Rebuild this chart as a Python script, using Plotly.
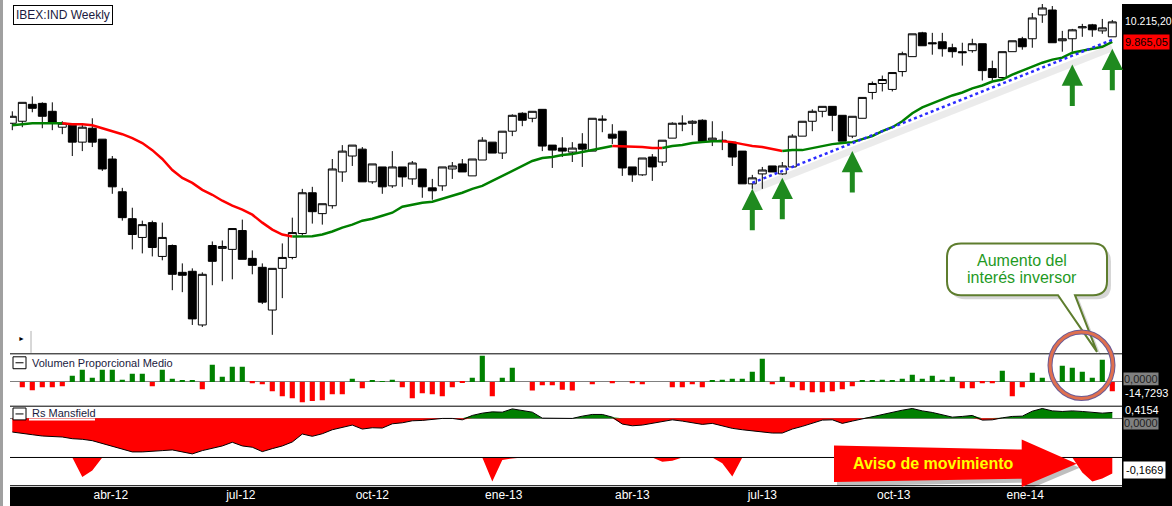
import numpy as np
import pandas as pd
import plotly.graph_objects as go

# ---------------- data (weekly IBEX 35) ----------------
dates = pd.date_range("2012-01-23", periods=111, freq="7D")

opens = [8554, 8584, 8842, 8857, 8735, 8495, 8525, 8276, 8480, 8319,
         8035, 7587, 7238, 7004, 7188, 6775, 6906, 6589, 6601, 6009,
         6906, 6871, 6859, 7089, 6752, 6647, 6168, 6635, 6763, 7052,
         7574, 7302, 7404, 7855, 8077, 8175, 7720, 7924, 7666, 7924,
         7760, 7896, 7639, 7666, 7896, 7966, 7801, 8021, 8276, 8119,
         8436, 8705, 8629, 8765, 8233, 8190, 8133, 8248, 8147, 8599,
         8392, 8436, 7924, 7815, 8063, 7993, 8334, 8540, 8554, 8599,
         8304, 8304, 8276, 8147, 7693, 7828, 7938, 7828, 7924, 8363,
         8584, 8735, 8811, 8674, 8363, 8629, 9028, 9171, 9076, 9364,
         9612, 10021, 9849, 9866, 9763, 9696, 9713, 9832, 9413, 9267,
         9696, 9918, 9918, 10340, 10430, 9883, 9918, 10109, 10162, 10056,
         9952]
highs = [8735, 8873, 8966, 8873, 8873, 8584, 8525, 8554, 8629, 8319,
         8077, 7639, 7378, 7213, 7213, 7188, 6918, 6693, 6635, 6589,
         6955, 6967, 7114, 7226, 6847, 6693, 6635, 6931, 7251, 7626,
         7653, 7430, 8035, 8233, 8233, 8205, 7966, 7924, 8147, 7924,
         8007, 7896, 7760, 7924, 7993, 8035, 8035, 8348, 8276, 8436,
         8689, 8720, 8735, 8765, 8233, 8348, 8276, 8407, 8629, 8674,
         8540, 8436, 7924, 8049, 8105, 8304, 8569, 8674, 8599, 8614,
         8584, 8436, 8276, 8147, 7815, 7924, 7938, 7993, 8392, 8584,
         8765, 8811, 8811, 8674, 8659, 8950, 9203, 9299, 9348, 9696,
         10004, 10039, 10021, 10021, 9832, 9849, 9918, 9832, 9545, 9696,
         9883, 9952, 10376, 10540, 10503, 10056, 10091, 10180, 10180, 10268,
         10250]
lows = [8451, 8495, 8720, 8480, 8451, 8392, 8077, 8147, 8205, 7869,
        7560, 7213, 6859, 6811, 6775, 6729, 6386, 6364, 6009, 5988,
        6442, 6487, 6509, 6741, 6566, 6233, 5906, 6298, 6741, 7028,
        7176, 7163, 7366, 7720, 7938, 7720, 7693, 7560, 7639, 7653,
        7679, 7508, 7482, 7600, 7760, 7855, 7801, 8021, 8119, 8035,
        8363, 8510, 8569, 8147, 7910, 8063, 7993, 7924, 8147, 8421,
        8247, 7801, 7720, 7801, 7733, 7938, 8334, 8436, 8377, 8276,
        8219, 8161, 7938, 7693, 7626, 7626, 7855, 7815, 7924, 8363,
        8436, 8644, 8436, 8290, 8334, 8629, 8919, 9044, 9044, 9283,
        9612, 9797, 9645, 9612, 9595, 9462, 9679, 9219, 9219, 9251,
        9696, 9730, 9763, 10198, 9849, 9696, 9696, 9952, 9952, 10004,
        9952]
closes = [8659, 8873, 8781, 8659, 8569, 8554, 8276, 8495, 8276, 7896,
          7653, 7251, 7040, 7163, 6882, 7004, 6566, 6555, 6073, 6566,
          6717, 6894, 7114, 6741, 6670, 6254, 6635, 6763, 7064, 7574,
          7327, 7430, 7896, 8147, 8233, 7720, 7966, 7653, 7924, 7787,
          7979, 7653, 7600, 7924, 7938, 7855, 8035, 8304, 8119, 8436,
          8674, 8599, 8735, 8219, 8161, 8147, 8190, 8175, 8629, 8614,
          8334, 7910, 7815, 8049, 7924, 8304, 8554, 8554, 8584, 8290,
          8334, 8290, 8063, 7693, 7774, 7882, 7855, 7938, 8363, 8584,
          8735, 8811, 8674, 8290, 8659, 8950, 9171, 9235, 9348, 9662,
          10004, 9797, 9832, 9746, 9696, 9679, 9832, 9380, 9267, 9696,
          9883, 9780, 10286, 10467, 9849, 9918, 10074, 10127, 10074, 10109,
          10215.20]
ma30 = [8525, 8540, 8554, 8554, 8554, 8554, 8540, 8540, 8525, 8480,
        8436, 8392, 8334, 8262, 8161, 8035, 7882, 7774, 7706, 7613,
        7547, 7469, 7404, 7353, 7289, 7188, 7101, 7040, 7016, 7018,
        7020, 7040, 7077, 7126, 7163, 7213, 7238, 7276, 7314, 7391,
        7417, 7443, 7456, 7495, 7534, 7574, 7626, 7666, 7733, 7801,
        7869, 7938, 8007, 8049, 8063, 8091, 8105, 8133, 8161, 8190,
        8219, 8215, 8215, 8205, 8190, 8190, 8219, 8233, 8262, 8276,
        8290, 8290, 8276, 8247, 8219, 8205, 8175, 8147, 8161, 8161,
        8190, 8219, 8247, 8262, 8276, 8319, 8363, 8436, 8495, 8584,
        8705, 8796, 8857, 8919, 8981, 9028, 9092, 9139, 9203, 9235,
        9315, 9380, 9446, 9511, 9562, 9595, 9679, 9713, 9746, 9780,
        9865.05]
vol_prop = [None, -8.3, -13.0, -8.3, -8.3, -6.7, 9.9, 19.3, 6.7, 19.3,
            19.3, 3.6, 13.0, 13.0, -6.7, 19.3, 5.2, 2.0, 2.0, -11.4,
            27.1, 8.3, 24.0, 24.0, -2.0, -3.6, -14.6, -22.4, -25.5, -31.8,
            -30.2, -28.7, -19.3, -19.3, 5.2, -9.9, 2.0, 0.3, 3.6, -8.3,
            -25.5, -17.7, -19.3, -22.4, -8.3, -0.3, 6.7, 41.2, -22.4, 6.7,
            22.4, 0.0, -13.6, -5.2, -5.2, -12.1, -13.6, 0.0, -3.6, 0.0,
            -2.0, 0.0, -2.0, -3.6, 0.0, 0.0, -8.3, -8.3, -3.6, -8.3,
            2.0, 3.6, 5.2, 5.2, 16.1, 36.5, -3.6, 8.3, -8.3, -13.0,
            -16.1, -16.1, -14.6, -11.4, -6.7, 2.0, 2.0, 3.6, 2.0, 5.2,
            11.4, 5.2, 9.9, 3.6, 8.3, -9.9, -9.9, -2.0, -2.0, 17.7,
            -22.4, -8.3, 14.6, 6.7, 0.0, 25.5, 22.4, 16.1, 6.7, 34.9,
            -14.7293]
rs_mansfield = [-1.021, -1.094, -1.217, -1.312, -1.363, -1.385, -1.509, -1.553, -1.655, -1.874,
                -2.092, -2.282, -2.479, -2.479, -2.457, -2.384, -2.333, -2.479, -2.624, -2.384,
                -2.209, -2.041, -1.771, -2.041, -2.136, -2.457, -2.238, -2.041, -1.750, -1.166,
                -1.334, -1.145, -0.853, -0.656, -0.510, -0.802, -0.707, -0.729, -0.416, -0.343,
                -0.197, -0.168, -0.095, -0.022, -0.022, -0.124, 0.197, 0.365, 0.459, 0.437,
                0.678, 0.583, 0.437, 0.0, -0.022, -0.051, -0.022, 0.146, 0.270, 0.270,
                0.073, -0.437, -0.561, -0.510, -0.386, -0.219, -0.124, -0.219, -0.343, -0.459,
                -0.386, -0.561, -0.751, -0.853, -0.926, -0.999, -1.094, -1.094, -0.802, -0.605,
                -0.386, -0.146, -0.124, -0.386, -0.219, -0.051, 0.095, 0.270, 0.437, 0.583,
                0.707, 0.532, 0.416, 0.270, 0.073, 0.124, 0.197, -0.146, -0.124, 0.022,
                0.124, 0.146, 0.510, 0.707, 0.532, 0.488, 0.532, 0.488, 0.416, 0.365,
                0.4154]
rs_lower = [0, 0, 0, 0, 0, 0, 0, -0.203, -0.136, 0,
            0, 0, 0, 0, 0, 0, 0, 0, 0, 0,
            0, 0, 0, 0, 0, 0, 0, 0, 0, 0,
            0, 0, 0, 0, 0, 0, 0, 0, 0, 0,
            0, 0, 0, 0, 0, 0, 0, 0, -0.250, -0.026,
            -0.010, 0, 0, 0, 0, 0, 0, 0, 0, 0,
            0, 0, 0, 0, 0, -0.045, -0.034, 0, 0, 0,
            0, -0.059, -0.198, 0, 0, 0, 0, 0, 0, 0,
            0, 0, 0, 0, 0, 0, 0, 0, 0, 0,
            0, 0, 0, 0, 0, 0, 0, 0, 0, 0,
            0, 0, 0, 0, 0, 0, 0, -0.156, -0.250, -0.219,
            -0.1669]
tick_dates = ["2012-04-01", "2012-07-01", "2012-10-01", "2013-01-01",
              "2013-04-01", "2013-07-01", "2013-10-01", "2014-01-01"]
tick_text = ["abr-12", "jul-12", "oct-12", "ene-13", "abr-13", "jul-13", "oct-13", "ene-14"]

trend_idx = [74, 110]
trend_prices = [7706, 9900]
shadow_prices = [7613, 9763]
arrow_idx = [74, 77, 84, 106, 110]
arrow_prices = [7626, 7774, 8147, 9479, 9746]

# ---------------- geometry ----------------
W, H = 1172, 506
ML, MR, MT, MB = 10, 50, 4, 17
PW, PH = W - ML - MR, H - MT - MB


def px(x):
    return (x - ML) / PW


def py(y):
    return (H - MB - y) / PH


FONT = "Liberation Sans, Arial, sans-serif"
GREEN = "#008000"
RED = "#ff0000"

fig = go.Figure()

# moving average coloured by slope
cols = []
prev = "g"
for i in range(1, len(ma30)):
    d = ma30[i] - ma30[i - 1]
    c = "g" if d > 0 else ("r" if d < 0 else prev)
    cols.append(c)
    prev = c
s = 0
for j in range(1, len(cols) + 1):
    if j == len(cols) or cols[j] != cols[s]:
        fig.add_trace(go.Scatter(
            x=dates[s:j + 1], y=ma30[s:j + 1], mode="lines",
            line=dict(color=GREEN if cols[s] == "g" else RED, width=2.5),
            xaxis="x", yaxis="y", showlegend=False, hoverinfo="skip"))
        s = j

fig.add_trace(go.Candlestick(
    x=dates, open=opens, high=highs, low=lows, close=closes,
    increasing=dict(fillcolor="white", line=dict(color="black", width=1)),
    decreasing=dict(fillcolor="black", line=dict(color="black", width=1)),
    whiskerwidth=0, xaxis="x", yaxis="y", showlegend=False))

# trend line with soft shadow
fig.add_trace(go.Scatter(x=[dates[i] for i in trend_idx], y=shadow_prices, mode="lines",
                         line=dict(color="rgba(0,0,0,0.08)", width=7),
                         xaxis="x", yaxis="y", showlegend=False, hoverinfo="skip"))
fig.add_trace(go.Scatter(x=[dates[i] for i in trend_idx], y=trend_prices, mode="lines",
                         line=dict(color="#2b2bff", width=2.5, dash="dot"),
                         xaxis="x", yaxis="y", showlegend=False, hoverinfo="skip"))

# volume panel
vcolors = [GREEN if (v is not None and v > 0) else RED for v in vol_prop]
fig.add_trace(go.Bar(x=dates, y=vol_prop, marker=dict(color=vcolors, line=dict(width=0)),
                     width=3.6 * 86400000, xaxis="x2", yaxis="y2", showlegend=False))

# RS Mansfield
rs_pos = [max(v, 0) for v in rs_mansfield]
rs_neg = [min(v, 0) for v in rs_mansfield]
fig.add_trace(go.Scatter(x=dates, y=rs_neg, mode="lines", fill="tozeroy", fillcolor=RED,
                         line=dict(width=0, color=RED), xaxis="x3", yaxis="y3", showlegend=False))
fig.add_trace(go.Scatter(x=dates, y=rs_pos, mode="lines", fill="tozeroy", fillcolor=GREEN,
                         line=dict(width=0, color=GREEN), xaxis="x3", yaxis="y3", showlegend=False))
fig.add_trace(go.Scatter(x=dates, y=rs_mansfield, mode="lines", line=dict(width=1, color="black"),
                         xaxis="x3", yaxis="y3", showlegend=False))

# lower panel
fig.add_trace(go.Scatter(x=dates, y=rs_lower, mode="lines", fill="tozeroy", fillcolor=RED,
                         line=dict(width=0, color=RED), xaxis="x4", yaxis="y4", showlegend=False))

xr = ["2012-01-21 09:21", "2014-03-09 19:00"]
xcommon = dict(range=xr, type="date", showgrid=False, zeroline=False, showline=False,
               ticks="", domain=[0, 1])

lo_main = np.log10(10215.2 * np.exp(-0.00174 * (355.3 - 22)))
hi_main = np.log10(10215.2 * np.exp(-0.00174 * (4 - 22)))

shapes = []


def rect(x0, y0, x1, y1, fill, layer="above", line=None):
    shapes.append(dict(type="rect", xref="paper", yref="paper",
                       x0=px(x0), x1=px(x1), y0=py(y1), y1=py(y0),
                       fillcolor=fill, line=line or dict(width=0), layer=layer))


def hline(y, x0=10, x1=1122, color="black", width=1):
    shapes.append(dict(type="line", xref="paper", yref="paper", x0=px(x0), x1=px(x1),
                       y0=py(y), y1=py(y), line=dict(color=color, width=width), layer="above"))


def vline(x, y0, y1, color="black", width=1):
    shapes.append(dict(type="line", xref="paper", yref="paper", x0=px(x), x1=px(x),
                       y0=py(y0), y1=py(y1), line=dict(color=color, width=width), layer="above"))


def path(cmds):
    out = []
    for c in cmds:
        if c[0] == "Z":
            out.append("Z")
        elif c[0] == "Q":
            out.append("Q%.5f,%.5f %.5f,%.5f" % (px(c[1]), py(c[2]), px(c[3]), py(c[4])))
        else:
            out.append("%s%.5f,%.5f" % (c[0], px(c[1]), py(c[2])))
    return " ".join(out)


def pshape(cmds, fill, line=None, dx=0, dy=0):
    cm = []
    for c in cmds:
        if c[0] == "Z":
            cm.append(c)
        elif c[0] == "Q":
            cm.append(("Q", c[1] + dx, c[2] + dy, c[3] + dx, c[4] + dy))
        else:
            cm.append((c[0], c[1] + dx, c[2] + dy))
    shapes.append(dict(type="path", xref="paper", yref="paper", path=path(cm),
                       fillcolor=fill, line=line or dict(width=0), layer="above"))


# backgrounds / frame
rect(1122, 4, 1180, 510, "black", layer="below")
rect(10, 490, 1122, 510, "black", layer="below")
rect(-12, -4, 3, 510, "#a0a0a0", layer="below")
# separators
hline(356.0)
hline(408.7)
hline(460.3)
hline(488.7)
vline(31, 333, 355, color="#b0b0b0")
# panel icons
for (y0, y1) in [(359, 371), (410.5, 422.5)]:
    rect(13, y0, 26, y1, "white", line=dict(color="black", width=1))
    hline((y0 + y1) / 2, 15.5, 23.5)
rect(29, 421, 95, 423, "white")

# callout
r = 14
callout = [("M", 947 + r, 245), ("L", 1107 - r, 245), ("Q", 1107, 245, 1107, 245 + r),
           ("L", 1107, 297 - r), ("Q", 1107, 297, 1107 - r, 297), ("L", 1075, 297),
           ("L", 1097, 354), ("L", 1058, 297), ("L", 947 + r, 297),
           ("Q", 947, 297, 947, 297 - r), ("L", 947, 245 + r), ("Q", 947, 245, 947 + r, 245), ("Z",)]
pshape(callout, "rgba(0,0,0,0.16)", dx=4, dy=4)
pshape(callout, "white", line=dict(color="#5e7d2e", width=2))

# ellipse ring
shapes.append(dict(type="circle", xref="paper", yref="paper", x0=px(1050), x1=px(1113),
                   y0=py(401), y1=py(334), line=dict(color="#6b5b95", width=5), layer="above"))
shapes.append(dict(type="circle", xref="paper", yref="paper", x0=px(1050), x1=px(1113),
                   y0=py(401), y1=py(334), line=dict(color="#e0704f", width=3), layer="above"))

# "Aviso de movimiento" arrow
aviso = [("M", 834, 448.3), ("L", 1021.7, 452.3), ("L", 1021.7, 442.3), ("L", 1076.7, 466.7),
         ("L", 1021.7, 490), ("L", 1021.7, 481.7), ("L", 834, 485), ("Z",)]
pshape(aviso, "rgba(0,0,0,0.25)", dx=3, dy=4)
pshape(aviso, RED)

ann = []


def text(x, y, t, size=12, color="black", anchor="left", bg=None, bold=False, pad=1, border=None):
    d = dict(xref="paper", yref="paper", x=px(x), y=py(y), text=("<b>%s</b>" % t) if bold else t,
             showarrow=False, xanchor=anchor, yanchor="middle",
             font=dict(family=FONT, size=size, color=color), borderpad=pad)
    if bg:
        d["bgcolor"] = bg
    if border:
        d["bordercolor"] = border
        d["borderwidth"] = 1
    ann.append(d)


text(13, 15, "IBEX:IND Weekly", size=12, color="#1a1a40", bg="white", border="black", pad=2)
text(30, 365, "Volumen Proporcional Medio", size=11, color="#1a1a40")
text(30, 416, "Rs Mansfield", size=11, color="#1a1a40")
text(16, 341, "►", size=7, color="black")
# right-hand labels
text(1123, 21, "10.215,20", size=10.5, color="white")
text(1123, 42, "9.865,05", size=11, color="black", bg=RED, pad=1)
text(1123, 381, "0,0000", size=11, color="#202020", bg="#808080", pad=0)
text(1123, 395, "-14,7293", size=11, color="white", bg="black", pad=1)
text(1123, 426, "0,0000", size=11, color="#202020", bg="#808080", pad=0)
text(1123, 413, "0,4154", size=11, color="white", bg="black", pad=1)
text(1123, 473, "-0,1669", size=11, color="black", bg="white", pad=2)
# callout + aviso text
text(1022, 262, "Aumento del", size=16, color="#1f9a1f", anchor="center")
text(1022, 279, "interés inversor", size=16, color="#1f9a1f", anchor="center")
text(851, 466, "Aviso de movimiento", size=16, color="#ffff00", bold=True)

# green arrows pointing at the touches of the trend line
for i, p in zip(arrow_idx, arrow_prices):
    ann.append(dict(x=dates[i], y=np.log10(p), xref="x", yref="y", ax=0, ay=43,
                    showarrow=True, arrowhead=2, arrowsize=0.85, arrowwidth=5,
                    arrowcolor="#1f8a1f", text=""))

fig.update_layout(
    width=W, height=H,
    margin=dict(l=ML, r=MR, t=MT, b=MB),
    paper_bgcolor="white", plot_bgcolor="white",
    showlegend=False, boxgap=0.12, boxgroupgap=0.1,
    font=dict(family=FONT),
    xaxis=dict(xcommon, anchor="y", showticklabels=False, rangeslider=dict(visible=False)),
    xaxis2=dict(xcommon, anchor="y2", showticklabels=False),
    xaxis3=dict(xcommon, anchor="y3", showticklabels=False),
    xaxis4=dict(xcommon, anchor="y4", showticklabels=True, tickvals=tick_dates, ticktext=tick_text,
                tickfont=dict(family=FONT, size=12, color="white")),
    yaxis=dict(domain=[py(355.3), 1], type="log", range=[lo_main, hi_main],
               showticklabels=False, showgrid=False, zeroline=False),
    yaxis2=dict(domain=[py(408.7), py(356.3)], range=[-38.2, 43.9], showticklabels=False,
                showgrid=False, zeroline=True, zerolinecolor="#808080", zerolinewidth=1),
    yaxis3=dict(domain=[py(460.3), py(408.7)], range=[-2.887, 0.875], showticklabels=False,
                showgrid=False, zeroline=True, zerolinecolor="#808080", zerolinewidth=1),
    yaxis4=dict(domain=[0, py(460.3)], range=[-0.296, 0], showticklabels=False,
                showgrid=False, zeroline=False),
    shapes=shapes, annotations=ann,
)

fig.write_html("out.html", config={"displayModeBar": False},
               post_script="document.body.style.margin='0px';document.body.style.overflow='hidden';")
